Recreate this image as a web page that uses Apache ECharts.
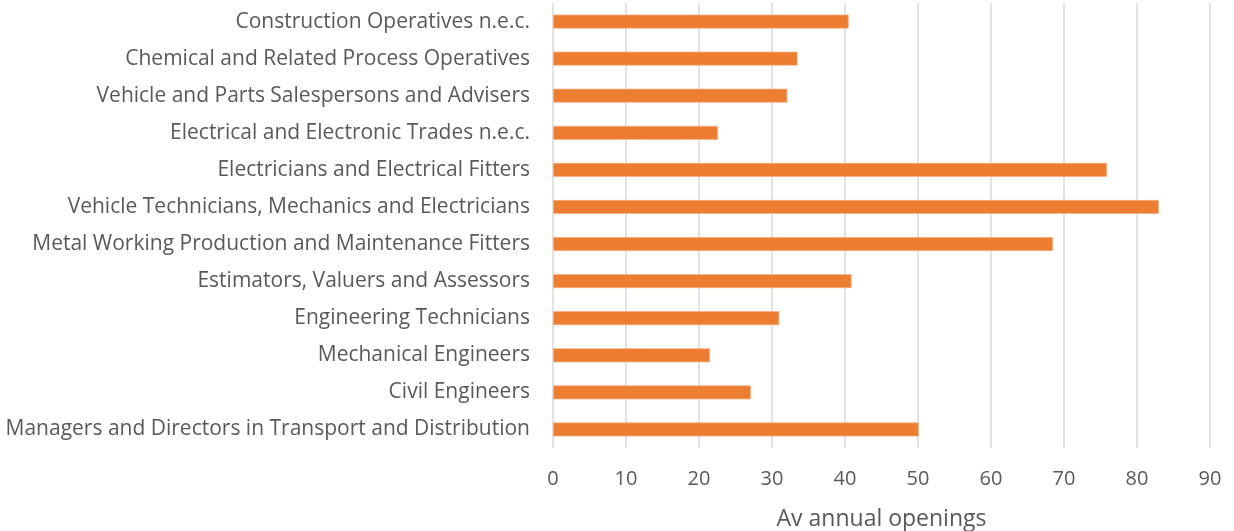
<!DOCTYPE html>
<html>
<head>
<meta charset="utf-8">
<script src="https://cdn.jsdelivr.net/npm/echarts@6/dist/echarts.min.js"></script>
<style>
html,body{margin:0;padding:0;background:#fff;}
#chart{width:1234px;height:531px;}
</style>
</head>
<body>
<div id="chart"></div>
<script>
// Categories listed bottom to top (ECharts category y-axis order)
const categories = [
  "Managers and Directors in Transport and Distribution",
  "Civil Engineers",
  "Mechanical Engineers",
  "Engineering Technicians",
  "Estimators, Valuers and Assessors",
  "Metal Working Production and Maintenance Fitters",
  "Vehicle Technicians, Mechanics and Electricians",
  "Electricians and Electrical Fitters",
  "Electrical and Electronic Trades n.e.c.",
  "Vehicle and Parts Salespersons and Advisers",
  "Chemical and Related Process Operatives",
  "Construction Operatives n.e.c."
];
const openings = [50.1, 27.1, 21.5, 31.0, 40.9, 68.5, 83.0, 75.9, 22.6, 32.1, 33.5, 40.5];
const axisMin = 0, axisMax = 90, axisStep = 10;
const axisTitle = "Av annual openings";

const FONT = "Open Sans";
const chart = echarts.init(document.getElementById('chart'), null, {renderer: 'canvas'});
chart.setOption({
  animation: false,
  backgroundColor: '#ffffff',
  grid: {left: 553, right: 24, top: 3, bottom: 83, containLabel: false, outerBoundsMode: 'none'},
  xAxis: {
    type: 'value',
    min: axisMin, max: axisMax, interval: axisStep,
    axisLine: {show: false},
    axisTick: {show: false},
    splitLine: {show: true, lineStyle: {color: '#d9d9d9', width: 1.5}},
    axisLabel: {color: '#595959', fontFamily: FONT, fontSize: 20, margin: 21},
    name: axisTitle,
    nameLocation: 'middle',
    nameGap: 60,
    nameTextStyle: {color: '#595959', fontFamily: FONT, fontSize: 23}
  },
  yAxis: {
    type: 'category',
    data: categories,
    axisLine: {show: false},
    axisTick: {show: false},
    splitLine: {show: false},
    axisLabel: {color: '#595959', fontFamily: FONT, fontSize: 21, margin: 23}
  },
  series: [{
    type: 'bar',
    data: openings,
    barWidth: 14,
    itemStyle: {color: '#ED7D31', borderColor: '#F4B183', borderWidth: 0.8}
  }]
});
</script>
</body>
</html>
